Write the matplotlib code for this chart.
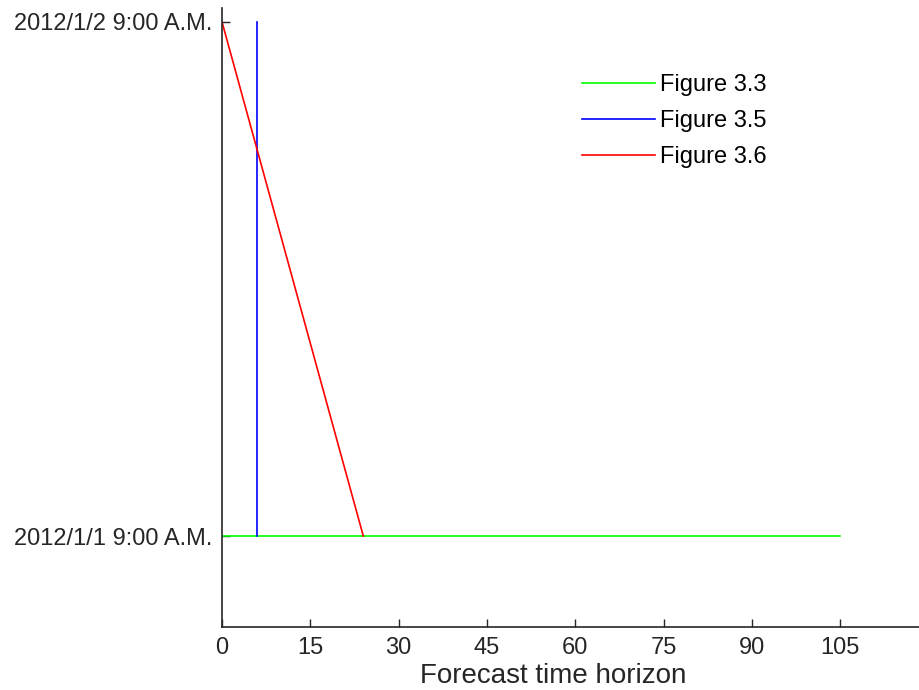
import matplotlib
matplotlib.use("Agg")
import matplotlib.pyplot as plt
import matplotlib.dates as mdates
import pandas as pd

plt.rcParams['font.family'] = ['Liberation Sans', 'DejaVu Sans']

# Data
series_names = ["Figure 3.3", "Figure 3.5", "Figure 3.6"]
fig33_x = [0, 105]
fig33_y = ["2012-01-01 09:00", "2012-01-01 09:00"]
fig35_x = [6, 6]
fig35_y = ["2012-01-01 09:00", "2012-01-02 09:00"]
fig36_x = [0, 24]
fig36_y = ["2012-01-02 09:00", "2012-01-01 09:00"]
x_ticks = [0, 15, 30, 45, 60, 75, 90, 105]
y_tick_times = ["2012-01-01 09:00", "2012-01-02 09:00"]
y_tick_labels = ["2012/1/1 9:00 A.M.", "2012/1/2 9:00 A.M."]
colors = ["#00ff00", "#0000ff", "#ff0000"]

def to_num(vals):
    return mdates.date2num(pd.to_datetime(vals).to_pydatetime())

fig = plt.figure(figsize=(9.19, 6.9), dpi=100)
ax = fig.add_axes([222/919, 1 - 627/690, 1 - 222/919, (627 - 8)/690])

for xs, ys, c, name in zip([fig33_x, fig35_x, fig36_x],
                           [fig33_y, fig35_y, fig36_y], colors, series_names):
    ax.plot(xs, to_num(ys), color=c, lw=1.2, label=name)

d1, d2 = to_num(y_tick_times)
span = d2 - d1
ax.set_ylim(d1 - 0.177 * span, d2 + 0.027 * span)
ax.set_xlim(0, 118.4)

ax.set_xticks(x_ticks)
ax.set_xticklabels([str(v) for v in x_ticks], fontsize=17)
ax.set_yticks([d1, d2])
ax.set_yticklabels(y_tick_labels, fontsize=17)
ax.tick_params(direction='in', length=6, width=1, colors='#262626', pad=7)

for s in ['top', 'right']:
    ax.spines[s].set_visible(False)
for s in ['left', 'bottom']:
    ax.spines[s].set_color('#262626')
    ax.spines[s].set_linewidth(1.2)

ax.set_xlabel("Forecast time horizon", fontsize=20, color='#262626')
ax.xaxis.set_label_coords((553 - 222) / 697, -(683 - 627) / 619)
ax.xaxis.label.set_va('baseline')

leg = ax.legend(loc='upper left', bbox_to_anchor=(582/919, 1 - 74/690),
                bbox_transform=fig.transFigure, frameon=False, fontsize=17,
                handlelength=3.1, handletextpad=0.21, labelspacing=0.6,
                borderpad=0, borderaxespad=0)

fig.savefig("out.png", dpi=100)
